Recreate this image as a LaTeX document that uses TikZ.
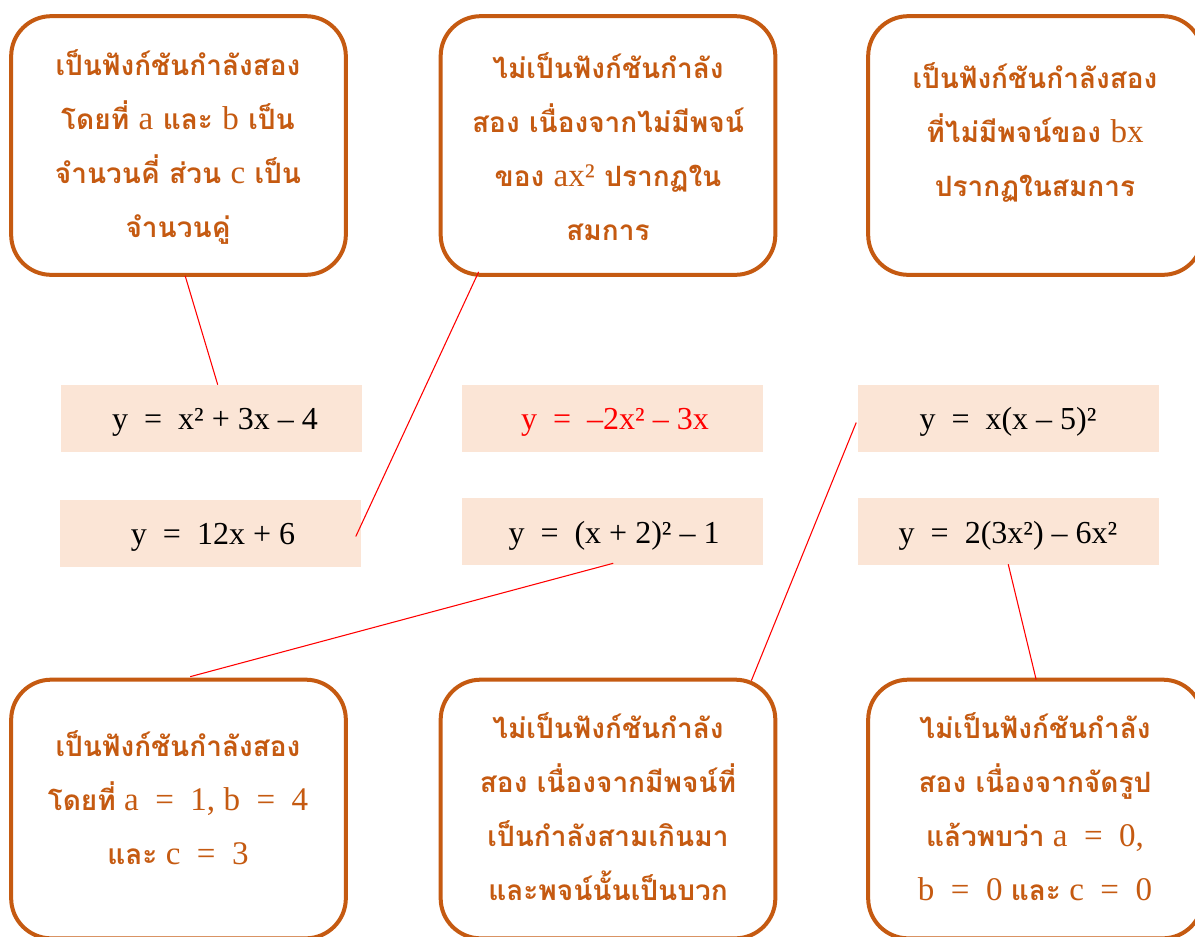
\documentclass[tikz,border=0pt]{standalone}
\usepackage{fontspec}
\setmainfont{Liberation Serif}
\newfontfamily\thaifont[Script=Thai]{Loma}
\newfontfamily\latfont[Scale=1.18]{Liberation Serif}
\usetikzlibrary{calc}
\definecolor{brd}{HTML}{C55A11}
\definecolor{eqfill}{HTML}{FBE5D6}
\definecolor{lnred}{HTML}{FF0000}
\newcommand\latn[1]{{\latfont\mdseries #1}}
\tikzset{
  bubble/.style={draw=brd, line width=3pt, rounded corners=30pt, fill=white,
    minimum width=251pt, minimum height=194pt, inner sep=0pt},
  eqbox/.style={fill=eqfill, minimum width=225.75pt, minimum height=50.25pt, inner sep=0pt},
  eqtext/.style={inner sep=0pt, font=\fontsize{24}{28}\selectfont},
  note/.style={text=brd, align=center, inner sep=0pt,
    font=\thaifont\bfseries\fontsize{21}{40.5}\selectfont},
  link/.style={draw=lnred, line width=0.8pt}
}
\begin{document}
\begin{tikzpicture}[x=0.75pt,y=-0.75pt]
\clip (0,0) rectangle (1195,936);
\fill[white] (0,0) rectangle (1195,936);
% bubbles
\node[bubble] (b1) at (178.5,145.5) {};
\node[bubble] (b2) at (608,145.5) {};
\node[bubble] (b3) at (1035.5,145.5) {};
\node[bubble] (b4) at (178.5,809) {};
\node[bubble] (b5) at (608,809) {};
\node[bubble] (b6) at (1035.5,809) {};
% bubble texts
\node[note] (t1) at (178,147) {เป็นฟังก์ชันกำลังสอง\\โดยที่ \latn{a} และ \latn{b} เป็น\\จำนวนคี่ ส่วน \latn{c} เป็น\\จำนวนคู่};
\node[note] (t2) at (608,147) {ไม่เป็นฟังก์ชันกำลัง\\สอง เนื่องจากไม่มีพจน์\\ของ \latn{ax²} ปรากฏใน\\สมการ};
\node[note] (t3) at (1035,132) {เป็นฟังก์ชันกำลังสอง\\ที่ไม่มีพจน์ของ \latn{bx}\\ปรากฏในสมการ};
\node[note] (t4) at (178,798) {เป็นฟังก์ชันกำลังสอง\\โดยที่\latn{ a ~=~ 1, b ~=~ 4}\\และ\latn{ c ~=~ 3}};
\node[note] (t5) at (608,807) {ไม่เป็นฟังก์ชันกำลัง\\สอง เนื่องจากมีพจน์ที่\\เป็นกำลังสามเกินมา\\และพจน์นั้นเป็นบวก};
\node[note] (t6) at (1035,807) {ไม่เป็นฟังก์ชันกำลัง\\สอง เนื่องจากจัดรูป\\แล้วพบว่า\latn{ a ~=~ 0,}\\\latn{b ~=~ 0 }และ\latn{ c ~=~ 0}};
% equation boxes
\node[eqbox] (eA) at (211.5,418.5) {};
\node[eqbox] (eB) at (210,533.5) {};
\node[eqbox] (eC) at (612,418.5) {};
\node[eqbox] (eD) at (612,531.5) {};
\node[eqbox] (eE) at (1008,418.5) {};
\node[eqbox] (eF) at (1008,531.5) {};
% equation texts
\node[eqtext] (qA) at (215,422) {y ~=~ x² + 3x – 4};
\node[eqtext] (qB) at (213,537) {y ~=~ 12x + 6};
\node[eqtext, text=lnred] (qC) at (615,422) {y ~=~ –2x² – 3x};
\node[eqtext] (qD) at (614,536) {y ~=~ (x + 2)² – 1};
\node[eqtext] (qE) at (1008,422) {y ~=~ x(x – 5)²};
\node[eqtext] (qF) at (1008,536) {y ~=~ 2(3x²) – 6x²};
% connectors
\draw[link] ($(b1.south west)+(176,-1)$) -- ($(eA.north west)+(157,0)$);
\draw[link] ($(b2.south west)+(40,-5)$) -- ($(eB.east)+(-5,3)$);
\draw[link] ($(eD.south west)+(152,-2)$) -- ($(b4.north west)+(181,-1)$);
\draw[link] ($(eE.west)+(-1,4)$) -- ($(b5.north east)+(-26,3)$);
\draw[link] ($(eF.south west)+(151,-1)$) -- ($(b6.north west)+(170,2)$);
\end{tikzpicture}
\end{document}
